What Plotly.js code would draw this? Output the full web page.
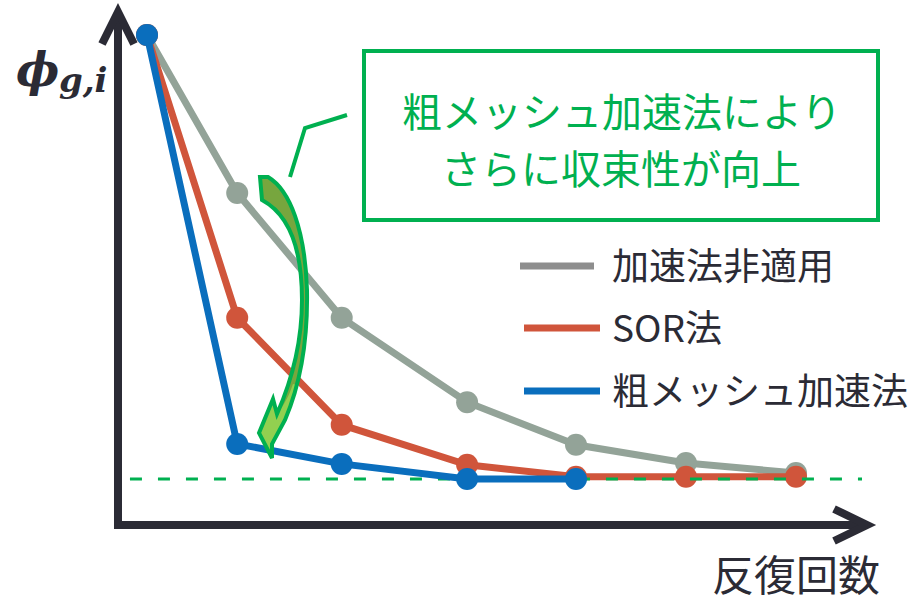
<!DOCTYPE html>
<html>
<head>
<meta charset="utf-8">
<script src="https://cdn.plot.ly/plotly-3.0.1.min.js"></script>
<style>html,body{margin:0;padding:0;background:#fff;}#chart{width:921px;height:603px;}</style>
</head>
<body>
<div id="chart"></div>
<script>
// ---- data ----
const seriesNames = ["加速法非適用", "SOR法", "粗メッシュ加速法"];
const seriesColors = ["#93a398", "#d0553b", "#0a6ebd"];
const iterNoAccel = [0, 0.82, 1.77, 2.91, 3.9, 4.9, 5.9];
const phiNoAccel  = [1.0, 0.644, 0.363, 0.173, 0.077, 0.036, 0.0135];
const iterSOR = [0, 0.82, 1.77, 2.91, 3.9, 4.9, 5.9];
const phiSOR  = [1.0, 0.363, 0.122, 0.032, 0.005, 0.005, 0.005];
const iterCMFD = [0, 0.82, 1.77, 2.91, 3.9];
const phiCMFD  = [1.0, 0.079, 0.034, 0.0, 0.0];
const convergedX = [-0.155, 6.5];
const convergedY = [0, 0];
const xLabel = "反復回数";
const calloutLines = ["粗メッシュ加速法により", "さらに収束性が向上"];

// ---- layout helpers (pixel -> paper) ----
const W = 921, H = 603;
const px = x => x / W;
const py = y => 1 - y / H;
const P = (x, y) => px(x).toFixed(5) + "," + py(y).toFixed(5);
const JP = "Noto Sans CJK JP, Noto Sans, sans-serif";
const DARK = "#2b2b35";
const GREEN = "#00b050";

const traces = [
  {x: iterNoAccel, y: phiNoAccel, name: seriesNames[0], mode: "lines+markers",
   line: {color: seriesColors[0], width: 7}, marker: {color: seriesColors[0], size: 22}},
  {x: iterSOR, y: phiSOR, name: seriesNames[1], mode: "lines+markers",
   line: {color: seriesColors[1], width: 7}, marker: {color: seriesColors[1], size: 22}},
  {x: convergedX, y: convergedY, mode: "lines", name: "収束値",
   line: {color: GREEN, width: 3, dash: "12px,16px"}},
  {x: iterCMFD, y: phiCMFD, name: seriesNames[2], mode: "lines+markers",
   line: {color: seriesColors[2], width: 7}, marker: {color: seriesColors[2], size: 22}}
];

const arrowPath = "M" + P(260, 177) + " L" + P(268, 177) +
  " C" + P(290, 190) + " " + P(305, 230) + " " + P(307, 290) +
  " C" + P(308, 345) + " " + P(300, 385) + " " + P(285, 420) +
  " L" + P(272, 444) + " L" + P(272, 458) + " L" + P(259, 433) + " L" + P(273, 399) + " L" + P(277, 414) +
  " C" + P(292, 380) + " " + P(302, 340) + " " + P(302, 300) +
  " C" + P(302, 250) + " " + P(290, 215) + " " + P(262, 200) + " Z";
const headPath = "M" + P(297, 385) + " C" + P(293, 400) + " " + P(289, 411) + " " + P(285, 420) +
  " L" + P(272, 444) + " L" + P(272, 458) + " L" + P(259, 433) + " L" + P(273, 399) + " L" + P(277, 414) +
  " C" + P(284, 405) + " " + P(289, 396) + " " + P(293, 384) + " Z";

const shapes = [
  // axes with open arrowheads
  {type: "path", xref: "paper", yref: "paper", path: "M" + P(118, 529) + " L" + P(118, 13),
   line: {color: DARK, width: 8}, layer: "below"},
  {type: "path", xref: "paper", yref: "paper", path: "M" + P(102, 44) + " L" + P(118, 12) + " L" + P(134, 44),
   line: {color: DARK, width: 8}, layer: "below"},
  {type: "path", xref: "paper", yref: "paper", path: "M" + P(114, 525) + " L" + P(865, 525),
   line: {color: DARK, width: 8}, layer: "below"},
  {type: "path", xref: "paper", yref: "paper", path: "M" + P(834, 509) + " L" + P(867, 525) + " L" + P(834, 541),
   line: {color: DARK, width: 8}, layer: "below"},
  // callout box
  {type: "rect", xref: "paper", yref: "paper", x0: px(364), x1: px(878), y0: py(220), y1: py(51),
   line: {color: GREEN, width: 4}, fillcolor: "#ffffff"},
  // callout pointer
  {type: "path", xref: "paper", yref: "paper", path: "M" + P(347, 115) + " L" + P(305, 128) + " L" + P(290, 177),
   line: {color: GREEN, width: 4}},
  // curved arrow: dark fill, light head, outline
  {type: "path", xref: "paper", yref: "paper", path: arrowPath, line: {width: 0}, fillcolor: "#77a63e"},
  {type: "path", xref: "paper", yref: "paper", path: headPath, line: {width: 0}, fillcolor: "#92d050"},
  {type: "path", xref: "paper", yref: "paper", path: arrowPath, line: {color: GREEN, width: 4}, fillcolor: "rgba(0,0,0,0)"}
];

// manual legend
const legendY = [266, 328, 391];
const legendX0 = [520, 524, 524];
const legendX1 = [594, 600, 600];
seriesNames.forEach((n, i) => {
  shapes.push({type: "line", xref: "paper", yref: "paper", x0: px(legendX0[i]), x1: px(legendX1[i]),
    y0: py(legendY[i]), y1: py(legendY[i]), line: {color: i === 0 ? "#8e8e8e" : seriesColors[i], width: 7}});
});

const legendTextY = [264, 326, 389];
const annotations = seriesNames.map((n, i) => ({
  xref: "paper", yref: "paper", x: px(610), y: py(legendTextY[i]), xanchor: "left", yanchor: "middle",
  text: n, showarrow: false, font: {family: JP, size: 37, color: DARK}
}));
const calloutY = [110, 167];
calloutLines.forEach((t, i) => annotations.push(
  {xref: "paper", yref: "paper", x: px(621), y: py(calloutY[i]), xanchor: "center", yanchor: "middle",
   text: t, showarrow: false, font: {family: JP, size: 40, color: GREEN}}));
annotations.push(
  {xref: "paper", yref: "paper", x: px(796), y: py(572), xanchor: "center", yanchor: "middle",
   text: xLabel, showarrow: false, font: {family: JP, size: 42, color: DARK}},
  {xref: "paper", yref: "paper", x: px(14), y: py(70), xanchor: "left", yanchor: "middle",
   text: "<b><i>ϕ</i></b>", showarrow: false, font: {family: "DejaVu Serif, serif", size: 46, color: DARK}},
  {xref: "paper", yref: "paper", x: px(57), y: py(80), xanchor: "left", yanchor: "middle",
   text: "<b><i>g,i</i></b>", showarrow: false, font: {family: "DejaVu Serif, serif", size: 34, color: DARK}}
);

const layout = {
  width: W, height: H,
  margin: {l: 0, r: 0, t: 0, b: 0},
  paper_bgcolor: "#ffffff", plot_bgcolor: "#ffffff",
  showlegend: false,
  xaxis: {range: [-147 / 110, (W - 147) / 110], visible: false, fixedrange: true},
  yaxis: {range: [(479 - H) / 444, 479 / 444], visible: false, fixedrange: true},
  shapes: shapes,
  annotations: annotations
};

Plotly.newPlot("chart", traces, layout, {staticPlot: true, displayModeBar: false});
</script>
</body>
</html>
